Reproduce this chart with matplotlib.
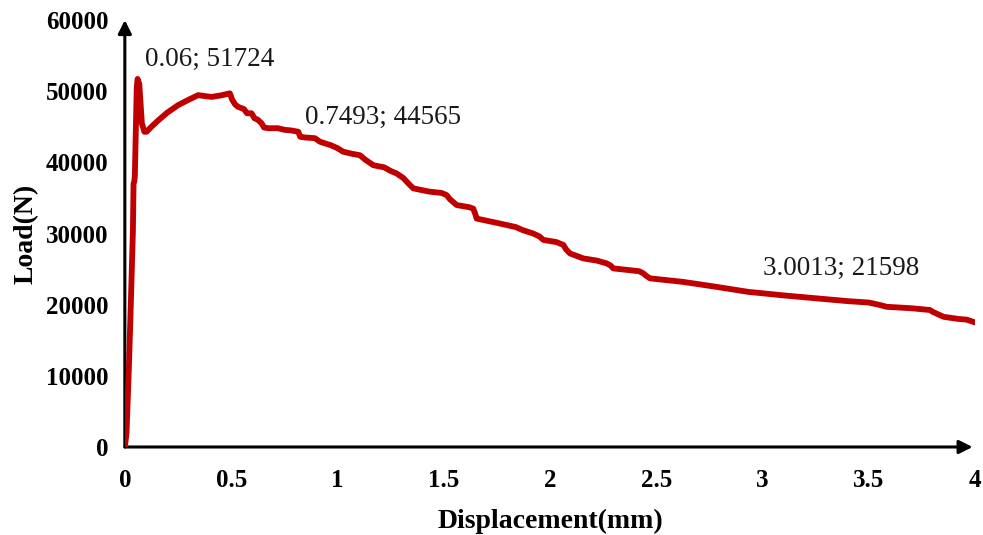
import matplotlib
matplotlib.use("Agg")
from matplotlib import pyplot as plt

disp_mm = [0.0, 0.008, 0.02, 0.03, 0.038, 0.041, 0.044, 0.047, 0.052, 0.056,
           0.06, 0.068, 0.08, 0.092, 0.102, 0.125, 0.157, 0.2, 0.251, 0.3,
           0.345, 0.38, 0.408, 0.45, 0.494, 0.505, 0.52, 0.533, 0.56, 0.575,
           0.596, 0.61, 0.625, 0.643, 0.655, 0.675, 0.72, 0.753, 0.78, 0.816,
           0.825, 0.847, 0.894, 0.918, 0.97, 1.0, 1.027, 1.07, 1.106, 1.13,
           1.169, 1.22, 1.25, 1.278, 1.31, 1.335, 1.357, 1.43, 1.49, 1.514,
           1.53, 1.561, 1.62, 1.639, 1.648, 1.655, 1.765, 1.84, 1.87, 1.921,
           1.95, 1.969, 2.03, 2.063, 2.075, 2.094, 2.157, 2.22, 2.267, 2.285,
           2.298, 2.42, 2.439, 2.455, 2.471, 2.627, 2.784, 2.933, 3.0013, 3.1,
           3.25, 3.4, 3.5, 3.553, 3.584, 3.7, 3.788, 3.8, 3.851, 3.92, 3.96,
           4.0]
load_n = [0, 2000, 12000, 22000, 30500, 37000, 37300, 38000, 45000, 50500,
          51724, 51000, 45500, 44300, 44300, 45000, 45900, 47000, 48050, 48800,
          49450, 49300, 49200, 49400, 49700, 48800, 48100, 47800, 47500, 46900,
          46900, 46200, 46000, 45500, 44900, 44800, 44800, 44565, 44500, 44300,
          43600, 43500, 43400, 42900, 42400, 42000, 41500, 41200, 41000, 40400,
          39600, 39300, 38800, 38450, 37800, 37000, 36350, 35900, 35700, 35400,
          34800, 34000, 33700, 33500, 32800, 32100, 31400, 30900, 30500, 30000,
          29600, 29100, 28800, 28400, 27800, 27200, 26500, 26200, 25800, 25500,
          25100, 24700, 24400, 24000, 23700, 23200, 22500, 21800, 21598, 21300,
          20900, 20500, 20300, 19950, 19700, 19500, 19250, 19000, 18300, 18000,
          17900, 17500]

labels = [(0.06, 51724, "0.06; 51724"),
          (0.7493, 44565, "0.7493; 44565"),
          (3.0013, 21598, "3.0013; 21598")]
label_offsets = [(5, 5), (15, 0), (0, 9)]

plt.rcParams["font.family"] = ["Liberation Serif", "DejaVu Serif"]

fig = plt.figure(figsize=(9.83, 5.35), dpi=100)
ax = fig.add_axes([0.127, 0.1645, 0.865, 0.798])

ax.plot(disp_mm, load_n, color="#C00000", lw=4.2, solid_joinstyle="round",
        solid_capstyle="round", zorder=3)

for (x, y, txt), (dx, dy) in zip(labels, label_offsets):
    ax.annotate(txt, xy=(x, y), xytext=(dx, dy), textcoords="offset points",
                fontsize=19.5, ha="left", va="bottom", color="#1a1a1a")

ax.set_xlim(0, 4)
ax.set_ylim(0, 60000)
ax.set_xticks([0, 0.5, 1, 1.5, 2, 2.5, 3, 3.5, 4])
ax.set_xticklabels(["0", "0.5", "1", "1.5", "2", "2.5", "3", "3.5", "4"])
ax.set_yticks(range(0, 60001, 10000))
ax.tick_params(length=0, labelsize=18)
ax.tick_params(axis="y", pad=12)
ax.tick_params(axis="x", pad=16)
for lab in ax.get_xticklabels() + ax.get_yticklabels():
    lab.set_fontweight("bold")

for s in ax.spines.values():
    s.set_visible(False)

arrow = dict(arrowstyle="-|>", lw=2.2, color="black", mutation_scale=20,
             shrinkA=0, shrinkB=0)
ax.annotate("", xy=(0, 1.0), xytext=(0, 0), xycoords="axes fraction",
            arrowprops=arrow, zorder=2)
ax.annotate("", xy=(0.997, 0), xytext=(0, 0), xycoords="axes fraction",
            arrowprops=arrow, zorder=2)

ax.set_xlabel("Displacement(mm)", fontsize=20, fontweight="bold", labelpad=12)
ax.set_ylabel("Load(N)", fontsize=20, fontweight="bold", labelpad=5)

fig.savefig("out.png", dpi=100)
